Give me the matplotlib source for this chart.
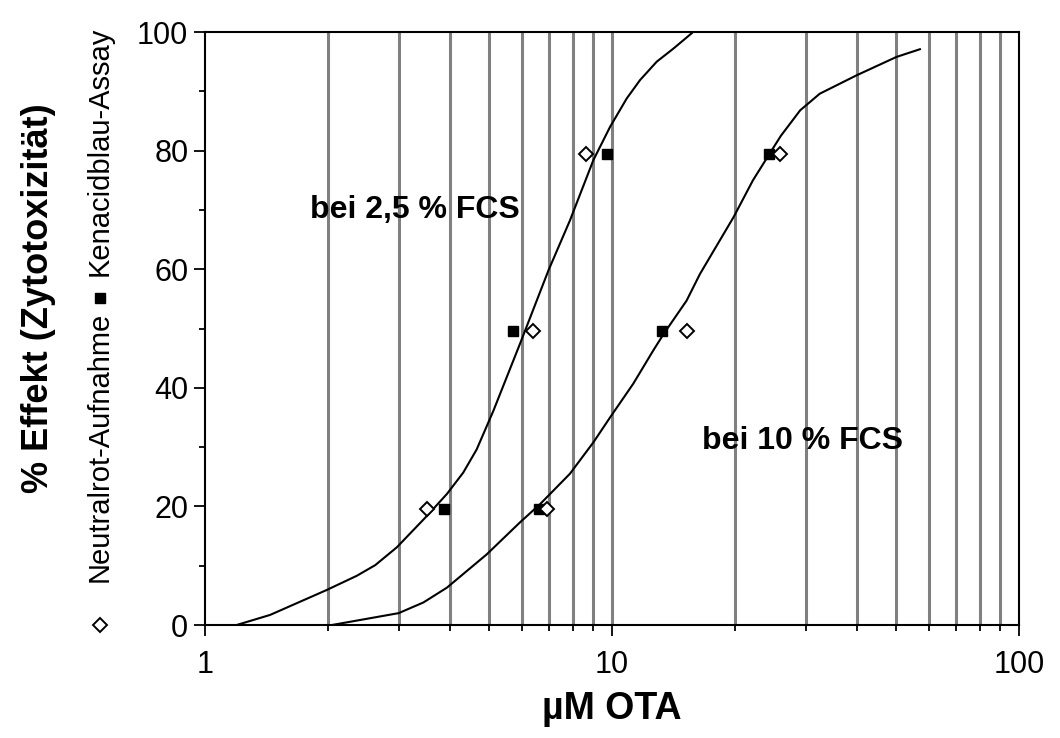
import matplotlib
matplotlib.use("Agg")
import matplotlib.pyplot as plt
from matplotlib.lines import Line2D
from matplotlib.ticker import FixedLocator, NullFormatter

plt.rcParams["font.family"] = ["Liberation Sans", "DejaVu Sans"]

# fitted curves
curve_25_x = [1.196, 1.445, 1.99, 2.36, 2.62, 2.96, 3.51, 3.93, 4.31, 4.65, 5.11,
              5.94, 6.98, 7.88, 9.0, 9.89, 10.87, 11.72, 12.88, 14.15, 15.7]
curve_25_y = [0, 1.7, 5.9, 8.3, 10.1, 13.1, 18.4, 22.1, 25.7, 29.6, 36.1,
              47.4, 59.8, 68.2, 78.4, 84.0, 88.8, 91.9, 95.0, 97.2, 99.8]

curve_10_x = [2.05, 2.99, 3.44, 3.93, 4.92, 5.94, 6.66, 7.88, 9.0, 9.89, 11.28,
              12.63, 13.4, 15.25, 16.45, 19.9, 22.2, 24.4, 26.0, 29.0, 32.4,
              39.9, 50.0, 57.1]
curve_10_y = [0, 2.0, 3.8, 6.3, 11.9, 17.3, 20.4, 25.5, 30.8, 35.0, 40.7,
              46.3, 49.1, 54.7, 59.2, 68.8, 75.0, 79.5, 82.5, 86.8, 89.6,
              92.7, 95.8, 97.1]

# measured points
effect_levels = [19.5, 49.5, 79.5]
kenacid_25 = [3.86, 5.7, 9.72]
kenacid_10 = [6.6, 13.3, 24.3]
neutral_25 = [3.52, 6.39, 8.63]
neutral_10 = [6.92, 15.3, 25.9]

x_major = [1, 10, 100]
x_minor = [2, 3, 4, 5, 6, 7, 8, 9, 20, 30, 40, 50, 60, 70, 80, 90]
y_major = [0, 20, 40, 60, 80, 100]
y_minor = [10, 30, 50, 70, 90]

fig = plt.figure(figsize=(10.6, 7.38), dpi=100)
ax = fig.add_axes([0.1934, 0.1531, 0.7679, 0.8035])

ax.set_xscale("log")
ax.set_xlim(1, 100)
ax.set_ylim(0, 100)

ax.plot(curve_25_x, curve_25_y, color="black", lw=1.5, zorder=3)
ax.plot(curve_10_x, curve_10_y, color="black", lw=1.5, zorder=3)

for xs in (kenacid_25, kenacid_10):
    ax.plot(xs, effect_levels, ls="none", marker="s", ms=7.5,
            color="black", zorder=4, clip_on=False)
for xs in (neutral_25, neutral_10):
    ax.plot(xs, effect_levels, ls="none", marker="D", ms=7, mfc="white",
            mec="black", mew=1.4, zorder=4, clip_on=False)

ax.xaxis.set_major_locator(FixedLocator(x_major))
ax.xaxis.set_minor_locator(FixedLocator(x_minor))
ax.xaxis.set_minor_formatter(NullFormatter())
ax.set_xticklabels(["1", "10", "100"])
ax.yaxis.set_major_locator(FixedLocator(y_major))
ax.yaxis.set_minor_locator(FixedLocator(y_minor))

ax.tick_params(which="major", direction="out", length=8, width=1.3,
               labelsize=22, pad=4)
ax.tick_params(which="minor", direction="out", length=4.5, width=1.3)
ax.tick_params(axis="x", which="major", pad=10)

ax.grid(True, which="both", axis="x", color="#808080", lw=2.2)
ax.set_axisbelow(True)
ticks = ax.xaxis.get_major_ticks()
ticks[0].gridline.set_visible(False)
ticks[-1].gridline.set_visible(False)

for sp in ax.spines.values():
    sp.set_linewidth(1.5)
    sp.set_zorder(5)

ax.text(1.81, 70, "bei 2,5 % FCS", fontsize=23, fontweight="bold",
        ha="left", va="center")
ax.text(16.6, 31.1, "bei 10 % FCS", fontsize=23, fontweight="bold",
        ha="left", va="center")

ax.set_xlabel("µM OTA", fontsize=27, fontweight="bold", labelpad=8)

fig.text(0.036, 1 - 298 / 738, "% Effekt (Zytotoxizität)", rotation=90,
         fontsize=26, fontweight="bold", ha="center", va="center")

# legend written along the y axis
fig.text(0.0943, 1 - 447 / 738, "Neutralrot-Aufnahme", rotation=90,
         fontsize=21, ha="center", va="center")
fig.text(0.0943, 1 - 151 / 738, "Kenacidblau-Assay", rotation=90,
         fontsize=21, ha="center", va="center")
fig.add_artist(Line2D([0.0943], [1 - 625 / 738], transform=fig.transFigure,
                      marker="D", ms=7, mfc="white", mec="black", mew=1.4))
fig.add_artist(Line2D([0.0943], [1 - 298 / 738], transform=fig.transFigure,
                      marker="s", ms=7.5, color="black"))

fig.savefig("out.png", dpi=100)
